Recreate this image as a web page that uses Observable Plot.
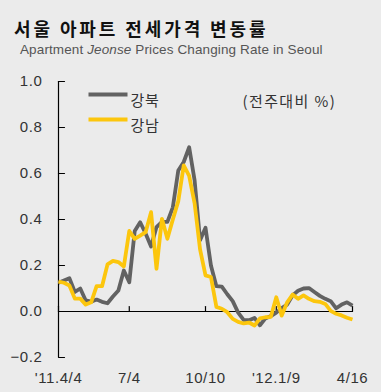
<!DOCTYPE html>
<html><head><meta charset="utf-8">
<script src="https://cdn.jsdelivr.net/npm/d3@7"></script>
<script src="https://cdn.jsdelivr.net/npm/@observablehq/plot@0.6"></script>
<style>
html,body{margin:0;padding:0;background:#ebebeb;width:381px;height:392px;overflow:hidden;}
#wrap{position:relative;width:381px;height:392px;}
#title{position:absolute;left:14px;top:19.5px;font-family:"Noto Sans CJK KR",sans-serif;font-weight:bold;font-size:18px;line-height:17px;color:#111;letter-spacing:2.9px;white-space:nowrap;}
#subtitle{position:absolute;left:20px;top:42.5px;font-family:"Liberation Sans",Arial,sans-serif;font-size:13.5px;line-height:14px;color:#555;letter-spacing:0.12px;white-space:nowrap;}
#chart{position:absolute;left:0;top:58px;}
</style></head>
<body><div id="wrap">
<div id="title">서울 아파트 전세가격 변동률</div>
<div id="subtitle">Apartment <i>Jeonse</i> Prices Changing Rate in Seoul</div>
<div id="chart"></div>
</div>
<script>
const startDate = "2011-04-04";
const endDate = "2012-04-16";
const seriesNames = ["강북", "강남"];
const seriesColors = ["#626262", "#fcc60d"];
const gangbuk = [0.125,0.135,0.145,0.085,0.10,0.048,0.043,0.052,0.042,0.036,
  0.065,0.091,0.178,0.127,0.35,0.388,0.339,0.283,0.367,0.39,
  0.39,0.453,0.613,0.65,0.714,0.57,0.31,0.364,0.20,0.11,
  0.108,0.075,0.045,-0.005,-0.036,-0.038,-0.028,-0.06,-0.03,-0.02,
  -0.005,0.015,0.03,0.07,0.09,0.10,0.102,0.085,0.068,0.055,
  0.045,0.014,0.03,0.04,0.026];
const gangnam = [0.13,0.125,0.113,0.056,0.056,0.03,0.04,0.11,0.11,0.205,
  0.22,0.215,0.196,0.35,0.316,0.33,0.345,0.432,0.186,0.403,
  0.316,0.40,0.48,0.635,0.59,0.47,0.27,0.157,0.15,0.02,
  0.012,-0.003,-0.032,-0.045,-0.052,-0.048,-0.061,-0.03,-0.025,-0.023,
  0.062,-0.018,0.04,0.074,0.055,0.07,0.055,0.045,0.042,0.033,
  0.003,-0.01,-0.017,-0.027,-0.035];
const yTicks = [-0.2, 0, 0.2, 0.4, 0.6, 0.8, 1.0];
const xTickDates = ["2011-04-04", "2011-07-04", "2011-10-10", "2012-01-09", "2012-04-16"];
const xTickLabels = ["'11.4/4", "7/4", "10/10", "'12.1/9", "4/16"];
const unitLabel = "(전주대비 %)";

const weeks = d3.utcMonday.range(new Date(startDate), d3.utcDay.offset(new Date(endDate), 1));
const rows = [
  ...weeks.map((d, i) => ({date: d, series: seriesNames[0], value: gangbuk[i]})),
  ...weeks.map((d, i) => ({date: d, series: seriesNames[1], value: gangnam[i]}))
];
const xTicks = xTickDates.map(s => new Date(s));
const labelMap = new Map(xTicks.map((d, i) => [+d, xTickLabels[i]]));
const lineShape = {draw(context, l) { context.moveTo(0, 0); context.lineTo(0, -l); }};
const krFont = "Noto Sans CJK KR, sans-serif";

const chart = Plot.plot({
  width: 381,
  height: 334,
  marginTop: 23,
  marginBottom: 35,
  marginLeft: 58,
  marginRight: 29,
  style: {background: "transparent", fontFamily: "Liberation Sans, Arial, sans-serif", fontSize: "15px", color: "#333"},
  x: {type: "utc", domain: [weeks[0], weeks[weeks.length - 1]]},
  y: {domain: [-0.2, 1.0]},
  color: {domain: seriesNames, range: seriesColors},
  marks: [
    Plot.ruleX([weeks[0]], {stroke: "black", strokeWidth: 1.2}),
    Plot.ruleY([0], {stroke: "black", strokeWidth: 1.2}),
    Plot.vector(yTicks, {y: d => d, frameAnchor: "left", length: 6, rotate: 90, anchor: "start", shape: lineShape, stroke: "black", strokeWidth: 1.2}),
    Plot.vector(xTicks, {x: d => d, y: 0, length: 5, anchor: "start", shape: lineShape, stroke: "black", strokeWidth: 1.2}),
    Plot.axisY(yTicks, {tickSize: 0, tickPadding: 16, tickFormat: d3.format(".1f"), fontSize: 15, label: null, fill: "#333"}),
    Plot.axisX(xTicks, {tickSize: 0, tickPadding: 15, tickFormat: d => labelMap.get(+d), fontSize: 15, label: null, fill: "#333"}),
    Plot.line(rows, {x: "date", y: "value", z: "series", stroke: "series", strokeWidth: 3.8, strokeLinejoin: "round", strokeLinecap: "butt"}),
    Plot.vector([seriesNames[0]], {frameAnchor: "top-left", dx: 30, dy: 13, length: 39, rotate: 90, anchor: "start", shape: lineShape, stroke: seriesColors[0], strokeWidth: 4, strokeLinecap: "butt"}),
    Plot.vector([seriesNames[1]], {frameAnchor: "top-left", dx: 30, dy: 38, length: 39, rotate: 90, anchor: "start", shape: lineShape, stroke: seriesColors[1], strokeWidth: 4, strokeLinecap: "butt"}),
    Plot.text([seriesNames[0]], {text: d => d, frameAnchor: "top-left", dx: 72, dy: 14, textAnchor: "start", fontSize: 15, fontFamily: krFont, fill: "#333"}),
    Plot.text([seriesNames[1]], {text: d => d, frameAnchor: "top-left", dx: 72, dy: 39, textAnchor: "start", fontSize: 15, fontFamily: krFont, fill: "#333"}),
    Plot.text([unitLabel], {text: d => d, frameAnchor: "top-left", dx: 184, dy: 15, textAnchor: "start", fontSize: 15, fontFamily: krFont, fill: "#333"})
  ]
});
d3.select(chart).selectAll("text").each(function() {
  const t = this.textContent;
  if (t === unitLabel) this.style.letterSpacing = "1.4px";
  else if (seriesNames.includes(t)) this.style.letterSpacing = "0.6px";
  else if (xTickLabels.includes(t) || /\d\.\d/.test(t)) this.style.letterSpacing = "0.6px";
});
document.getElementById("chart").appendChild(chart);
</script>
</body></html>
